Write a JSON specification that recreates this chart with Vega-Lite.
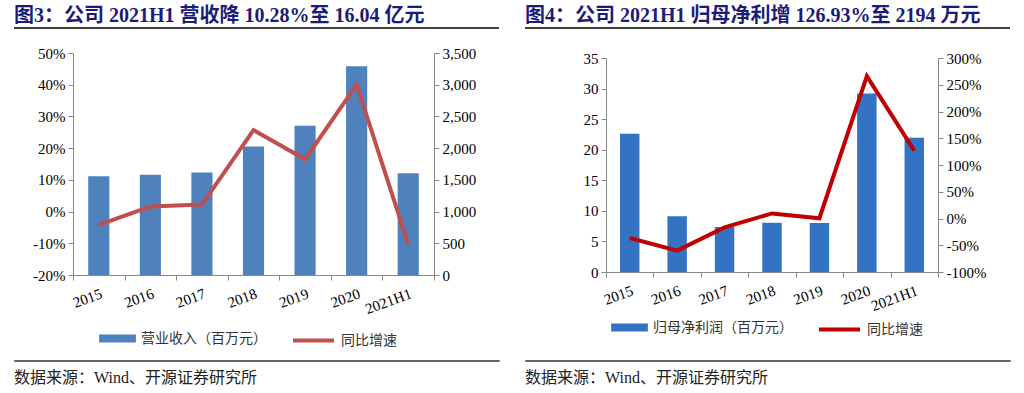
{
  "$schema": "https://vega.github.io/schema/vega-lite/v6.json",
  "background": "white",
  "padding": {"left": 13, "top": 5, "right": 0, "bottom": 0},
  "spacing": 10,
  "config": {
    "view": {"stroke": null},
    "font": "Liberation Serif, Noto Sans CJK SC",
    "axis": {"labelFont": "Liberation Serif", "labelFontSize": 15, "labelColor": "#000", "domainColor": "#888", "tickColor": "#888", "grid": false, "tickSize": 5, "labelPadding": 3},
    "legend": {"orient": "bottom", "labelFont": "Noto Sans CJK SC", "labelFontSize": 14, "labelColor": "#333", "labelLimit": 300, "padding": 0,
               "layout": {"bottom": {"anchor": "middle", "margin": 37}}},
    "title": {"font": "Liberation Serif, Noto Sans CJK SC", "fontSize": 20, "fontWeight": "bold", "color": "#1c1c78", "anchor": "start"}
  },
  "vconcat": [
    {
      "spacing": 24,
      "hconcat": [
        {
          "width": 485, "height": 6,
          "view": {"stroke": "#000", "strokeWidth": 1.5, "strokeDash": [485, 2000]},
          "title": {"text": "图3：公司 2021H1 营收降 10.28%至 16.04 亿元", "offset": 2},
          "data": {"values": [{"k": 1}]},
          "mark": {"type": "text", "fontSize": 0},
          "encoding": {"text": {"value": ""}}
        },
        {
          "width": 485, "height": 6,
          "view": {"stroke": "#000", "strokeWidth": 1.5, "strokeDash": [485, 2000]},
          "title": {"text": "图4：公司 2021H1 归母净利增 126.93%至 2194 万元", "offset": 2},
          "data": {"values": [{"k": 1}]},
          "mark": {"type": "text", "fontSize": 0},
          "encoding": {"text": {"value": ""}}
        }
      ]
    },
    {
      "spacing": 0,
      "hconcat": [
        {
          "width": 1, "height": 1,
          "data": {"values": [{"k": 1}]},
          "mark": {"type": "text", "fontSize": 0},
          "encoding": {"text": {"value": ""}}
        },
        {
          "spacing": 39,
          "hconcat": [
            {
              "spacing": 0,
              "vconcat": [
                {
                  "width": 1, "height": 1,
                  "data": {"values": [{"k": 1}]},
                  "mark": {"type": "text", "fontSize": 0},
                  "encoding": {"text": {"value": ""}}
                },
                {
                  "width": 361, "height": 222,
                  "data": {"values": [
                    {"period": "2015", "revenue": 1558, "growth": -0.042},
                    {"period": "2016", "revenue": 1579, "growth": 0.016},
                    {"period": "2017", "revenue": 1617, "growth": 0.022},
                    {"period": "2018", "revenue": 2027, "growth": 0.257},
                    {"period": "2019", "revenue": 2352, "growth": 0.165},
                    {"period": "2020", "revenue": 3290, "growth": 0.40},
                    {"period": "2021H1", "revenue": 1604, "growth": -0.1028}
                  ]},
                  "layer": [
                    {
                      "mark": {"type": "bar", "width": {"band": 0.41}},
                      "encoding": {
                        "x": {"field": "period", "type": "ordinal", "sort": null, "scale": {"paddingInner": 0, "paddingOuter": 0}, "title": null,
                              "axis": {"labelAngle": -20, "tickBand": "extent", "labelPadding": 6}},
                        "y": {"field": "revenue", "type": "quantitative", "scale": {"domain": [0, 3500]}, "title": null,
                              "axis": {"orient": "right", "values": [0, 500, 1000, 1500, 2000, 2500, 3000, 3500], "format": ",.0f", "minExtent": 50, "maxExtent": 50}},
                        "fill": {"datum": "营业收入（百万元）", "type": "nominal", "scale": {"range": ["#4F81BD"]},
                                 "legend": {"title": null, "symbolType": "M-2.6,-0.58H2.6V0.58H-2.6Z", "symbolSize": 200, "symbolStrokeWidth": 0, "labelOffset": 16, "offset": 14}}
                      }
                    },
                    {
                      "mark": {"type": "line", "strokeWidth": 4},
                      "encoding": {
                        "x": {"field": "period", "type": "ordinal", "sort": null},
                        "y": {"field": "growth", "type": "quantitative", "scale": {"domain": [-0.2, 0.5]}, "title": null,
                              "axis": {"orient": "left", "values": [-0.2, -0.1, 0, 0.1, 0.2, 0.3, 0.4, 0.5], "format": ".0%", "minExtent": 58, "maxExtent": 58,
                                       "labelExpr": "replace(datum.label, '−', '-')"}},
                        "stroke": {"datum": "同比增速", "type": "nominal", "scale": {"range": ["#C0504D"]},
                                   "legend": {"title": null, "symbolType": "M-2.9,0H2.9", "symbolSize": 200, "symbolStrokeWidth": 4, "symbolFillColor": "transparent", "labelOffset": 18, "offset": 14}}
                      }
                    }
                  ],
                  "resolve": {"scale": {"y": "independent", "fill": "independent", "stroke": "independent"}}
                }
              ]
            },
            {
              "spacing": 5,
              "vconcat": [
                {
                  "width": 1, "height": 1,
                  "data": {"values": [{"k": 1}]},
                  "mark": {"type": "text", "fontSize": 0},
                  "encoding": {"text": {"value": ""}}
                },
                {
                  "width": 332, "height": 214,
                  "data": {"values": [
                    {"period": "2015", "profit": 22.6, "growth": -0.365},
                    {"period": "2016", "profit": 9.1, "growth": -0.60},
                    {"period": "2017", "profit": 7.35, "growth": -0.166},
                    {"period": "2018", "profit": 8.05, "growth": 0.095},
                    {"period": "2019", "profit": 8.0, "growth": 0.005},
                    {"period": "2020", "profit": 29.2, "growth": 2.66},
                    {"period": "2021H1", "profit": 21.94, "growth": 1.2693}
                  ]},
                  "layer": [
                    {
                      "mark": {"type": "bar", "width": {"band": 0.41}},
                      "encoding": {
                        "x": {"field": "period", "type": "ordinal", "sort": null, "scale": {"paddingInner": 0, "paddingOuter": 0}, "title": null,
                              "axis": {"labelAngle": -20, "tickBand": "extent", "labelPadding": 6}},
                        "y": {"field": "profit", "type": "quantitative", "scale": {"domain": [0, 35]}, "title": null,
                              "axis": {"orient": "left", "values": [0, 5, 10, 15, 20, 25, 30, 35], "minExtent": 83, "maxExtent": 83}},
                        "fill": {"datum": "归母净利润（百万元）", "type": "nominal", "scale": {"range": ["#3472C4"]},
                                 "legend": {"title": null, "symbolType": "M-2.6,-0.58H2.6V0.58H-2.6Z", "symbolSize": 200, "symbolStrokeWidth": 0, "labelOffset": 16, "offset": 6}}
                      }
                    },
                    {
                      "mark": {"type": "line", "strokeWidth": 4},
                      "encoding": {
                        "x": {"field": "period", "type": "ordinal", "sort": null},
                        "y": {"field": "growth", "type": "quantitative", "scale": {"domain": [-1, 3]}, "title": null,
                              "axis": {"orient": "right", "values": [-1, -0.5, 0, 0.5, 1, 1.5, 2, 2.5, 3], "format": ".0%",
                                       "labelExpr": "replace(datum.label, '−', '-')"}},
                        "stroke": {"datum": "同比增速", "type": "nominal", "scale": {"range": ["#C00000"]},
                                   "legend": {"title": null, "symbolType": "M-2.9,0H2.9", "symbolSize": 200, "symbolStrokeWidth": 4, "symbolFillColor": "transparent", "labelOffset": 18, "offset": 6}}
                      }
                    }
                  ],
                  "resolve": {"scale": {"y": "independent", "fill": "independent", "stroke": "independent"}}
                }
              ]
            }
          ]
        }
      ]
    },
    {
      "spacing": 24,
      "hconcat": [
        {
          "width": 485, "height": 1,
          "view": {"stroke": "#666", "strokeWidth": 1},
          "title": {"text": "数据来源：Wind、开源证券研究所", "orient": "bottom", "offset": 8, "fontSize": 16, "fontWeight": "normal", "color": "#222"},
          "data": {"values": [{"k": 1}]},
          "mark": {"type": "text", "fontSize": 2},
          "encoding": {"text": {"value": ""}}
        },
        {
          "width": 485, "height": 1,
          "view": {"stroke": "#666", "strokeWidth": 1},
          "title": {"text": "数据来源：Wind、开源证券研究所", "orient": "bottom", "offset": 8, "fontSize": 16, "fontWeight": "normal", "color": "#222"},
          "data": {"values": [{"k": 1}]},
          "mark": {"type": "text", "fontSize": 2},
          "encoding": {"text": {"value": ""}}
        }
      ]
    }
  ]
}
